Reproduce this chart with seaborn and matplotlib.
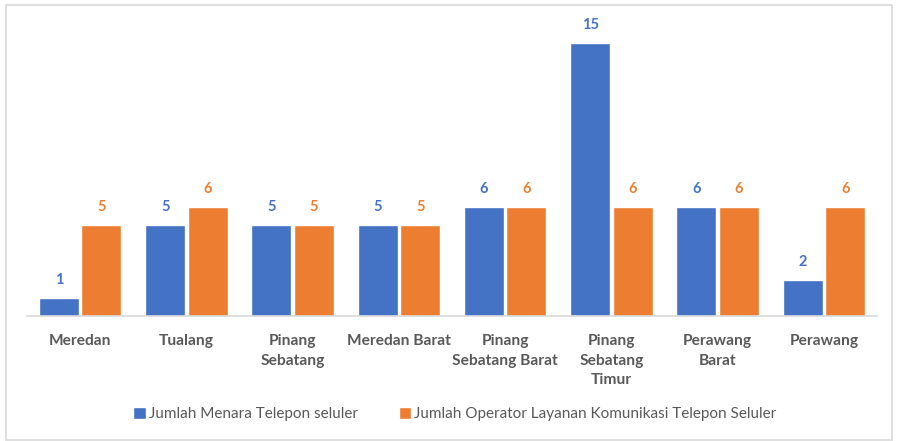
import pandas as pd
import numpy as np
import matplotlib
matplotlib.use("Agg")
import matplotlib.pyplot as plt
import seaborn as sns
from matplotlib.patches import Rectangle

# data
kecamatan = ["Meredan", "Tualang", "Pinang\nSebatang", "Meredan Barat",
             "Pinang\nSebatang Barat", "Pinang\nSebatang\nTimur",
             "Perawang\nBarat", "Perawang"]
menara = [1, 5, 5, 5, 6, 15, 6, 2]
operator = [5, 6, 5, 5, 6, 6, 6, 6]
seri = ["Jumlah Menara Telepon seluler",
        "Jumlah Operator Layanan Komunikasi Telepon Seluler"]
warna = ["#4472C4", "#ED7D31"]

df = pd.DataFrame({
    "kecamatan": kecamatan * 2,
    "jumlah": menara + operator,
    "seri": [seri[0]] * len(kecamatan) + [seri[1]] * len(kecamatan),
})

sns.set_theme(style="white")
plt.rcParams["font.family"] = ["Lato", "DejaVu Sans"]

fig = plt.figure(figsize=(8.97, 4.41), dpi=100)
ax = fig.add_axes([27 / 897, 125 / 441, 850 / 897, 291 / 441])

sns.barplot(data=df, x="kecamatan", y="jumlah", hue="seri", palette=warna,
            width=0.8, gap=0.06, saturation=1, ax=ax, legend=True)

for cont, c in zip(ax.containers, warna):
    ax.bar_label(cont, padding=8, color=c, fontsize=10.5, fontweight="bold")

ax.set_ylim(0, 16)
ax.set_xlim(-0.5, len(kecamatan) - 0.5)
ax.set_xlabel("")
ax.set_ylabel("")
ax.set_yticks([])
for s in ["top", "right", "left"]:
    ax.spines[s].set_visible(False)
ax.spines["bottom"].set_color("#d9d9d9")
ax.spines["bottom"].set_linewidth(1.2)
ax.tick_params(axis="x", length=0, pad=13)
for t in ax.get_xticklabels():
    t.set_fontsize(11.2)
    t.set_fontweight("bold")
    t.set_color("#595959")
    t.set_verticalalignment("top")
    t.set_linespacing(1.5)

ax.legend(loc="center", bbox_to_anchor=(455 / 897, 27 / 441), bbox_transform=fig.transFigure,
          ncol=2, frameon=False, fontsize=11, handlelength=0.8, handleheight=0.8,
          handletextpad=0.2, columnspacing=2.7, labelcolor="#595959")

# bingkai grafik
fig.patches.append(Rectangle((6 / 897, 1 / 441), 886 / 897, 435 / 441,
                             transform=fig.transFigure, fill=False,
                             edgecolor="#d9d9d9", linewidth=1.2))

fig.savefig("out.png", dpi=100)
